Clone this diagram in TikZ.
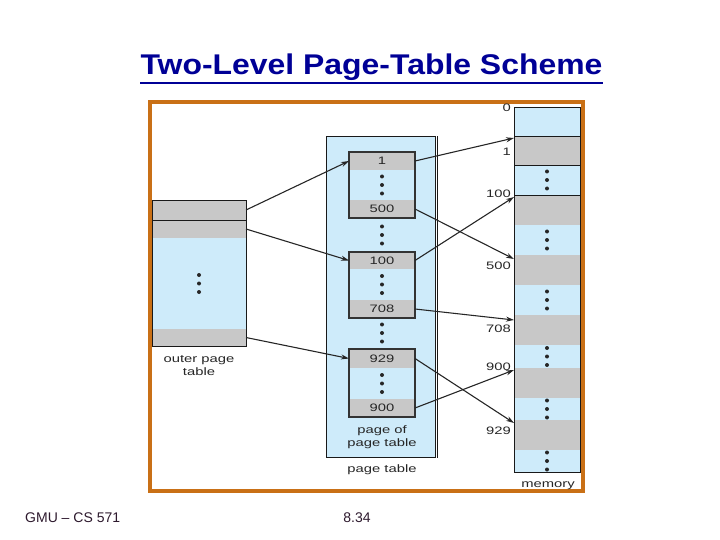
\documentclass[tikz,border=0pt]{standalone}
\usepackage{fontspec}
\setmainfont{Liberation Sans}
\newfontfamily\figfont[FakeStretch=1.37]{Liberation Sans}
\newfontfamily\titlefont[FakeStretch=1.12]{Liberation Sans}
\usetikzlibrary{arrows.meta, positioning}

\definecolor{pblue}{RGB}{206,235,250}
\definecolor{pgray}{RGB}{200,200,200}
\definecolor{frameorange}{RGB}{201,112,22}
\definecolor{titleblue}{RGB}{0,0,150}
\definecolor{footcol}{RGB}{45,25,45}

\begin{document}
\begin{tikzpicture}[
  x=1pt, y=-1pt,
  every node/.style={font=\figfont\fontsize{10.8}{13}\selectfont, text=black!85},
  cell/.style={rectangle, inner sep=0pt, outer sep=0pt, minimum width=66pt},
  grayrow/.style={cell, fill=pgray},
  bluerow/.style={cell, fill=pblue},
  box/.style={draw=black!80, line width=1.5pt},
  frame/.style={draw=black!90, line width=0.9pt},
  addr/.style={anchor=east, inner sep=0pt},
  lbl/.style={align=center, inner sep=0pt},
  arrow/.style={-{Stealth[length=8pt,width=5pt]}, line width=1.1pt, draw=black!85},
  dot/.style={fill=black!85},
]
\useasboundingbox (0,0) rectangle (720,540);

%% ── Column positions ──────────────────────────────────
\def\ox{199}  % outer page table x
\def\px{382}  % page table x
\def\mx{547}  % memory x

%% ── Title and footer ──────────────────────────────────
\node[font=\titlefont\bfseries\fontsize{28.5}{30}\selectfont, text=titleblue,
      anchor=base, inner sep=0pt] (title) at (371.5,75) {Two-Level Page-Table Scheme};
\draw[titleblue, line width=2.2pt] ([yshift=-8pt]title.base west) -- ([yshift=-8pt]title.base east);
\node[font=\fontsize{14}{16}\selectfont, text=footcol, anchor=base west, inner sep=0pt]
  (course) at (25,522) {GMU – CS 571};
\node[font=\fontsize{14}{16}\selectfont, text=footcol, anchor=base, inner sep=0pt]
  (slideno) at (357,522) {8.34};

%% ── Orange frame ──────────────────────────────────────
\node[draw=frameorange, line width=4pt, minimum width=433pt, minimum height=389pt,
      inner sep=0pt] (panel) at (366.5,296.5) {};

%% ── Outer page table ──────────────────────────────────
\foreach \nm/\ya/\yb/\st in {o1/200/220/grayrow, o2/220/238/grayrow,
                             oA/238/329/bluerow, oN/329/346/grayrow}{
  \pgfmathsetmacro\yc{(\ya+\yb)/2}
  \pgfmathsetmacro\hh{\yb-\ya}
  \node[\st, minimum width=94pt, minimum height=\hh pt] (\nm) at (\ox,\yc) {};
}
\draw[frame] (o1.north west) rectangle (oN.south east);
\draw[frame] (o1.south west) -- (o1.south east);
\node[lbl] (outerlbl) at (\ox,366) {outer page\\table};

%% ── Page table with its pages ─────────────────────────
\node[frame, fill=pblue, minimum width=109pt, minimum height=321pt, inner sep=0pt]
  (ptab) at (380.5,297) {};
\draw[frame] ([xshift=2pt]ptab.north east) -- ([xshift=2pt]ptab.south east);
\foreach \nm/\ya/\yb/\st/\txt in {p1/152/170/grayrow/1, pA/170/200/bluerow/, p500/200/218/grayrow/500,
                                  p100/252/269/grayrow/100, pB/269/300/bluerow/, p708/300/318/grayrow/708,
                                  p929/349/368/grayrow/929, pC/368/399/bluerow/, p900/399/417/grayrow/900}{
  \pgfmathsetmacro\yc{(\ya+\yb)/2}
  \pgfmathsetmacro\hh{\yb-\ya}
  \node[\st, minimum height=\hh pt] (\nm) at (\px,\yc) {\txt};
}
\draw[box] (p1.north west) rectangle (p500.south east);
\draw[box] (p100.north west) rectangle (p708.south east);
\draw[box] (p929.north west) rectangle (p900.south east);
\node[lbl] (pagelbl) at (\px,437) {page of\\page table};
\node[lbl] (ptablbl) at (\px,470) {page table};

%% ── Memory ────────────────────────────────────────────
\foreach \nm/\ya/\yb/\st in {m0/107/136/bluerow, m1/136/165/grayrow, mA/165/195/bluerow,
                             m100/195/225/grayrow, mB/225/255/bluerow, m500/255/285/grayrow,
                             mC/285/315/bluerow, m708/315/345/grayrow, mD/345/368/bluerow,
                             m900/368/398/grayrow, mE/398/420/bluerow, m929/420/450/grayrow,
                             mF/450/472/bluerow}{
  \pgfmathsetmacro\yc{(\ya+\yb)/2}
  \pgfmathsetmacro\hh{\yb-\ya}
  \node[\st, minimum height=\hh pt] (\nm) at (\mx,\yc) {};
}
\draw[frame] (m0.north west) rectangle (mF.south east);
\foreach \nm in {m0, m1, mA}
  \draw[frame] (\nm.south west) -- (\nm.south east);
\node[lbl] (memlbl) at (548,486) {memory};

% frame numbers beside memory
\node[addr] (a0)   at (511,108) {0};
\node[addr] (a1)   at (511,152) {1};
\node[addr] (a100) at (511,194) {100};
\node[addr] (a500) at (511,266) {500};
\node[addr] (a708) at (511,329) {708};
\node[addr] (a900) at (511,367) {900};
\node[addr] (a929) at (511,431) {929};

%% ── Ellipsis dots ─────────────────────────────────────
\foreach \nm in {oA, pA, pB, pC, mA, mB, mC, mD, mE, mF}
  \foreach \d in {-8.5, 0, 8.5}
    \fill[dot] ([yshift=\d pt]\nm.center) circle (2);
\foreach \yc in {235, 333}
  \foreach \d in {-8.5, 0, 8.5}
    \fill[dot] (\px,\yc+\d) circle (2);

%% ── Arrows ────────────────────────────────────────────
\draw[arrow] (o1.east) -- (p1.west);
\draw[arrow] (o2.east) -- (p100.west);
\draw[arrow] (oN.east) -- (p929.west);
\draw[arrow] (p1.east)   -- ([yshift=-2pt]m1.north west);
\draw[arrow] (p500.east) -- ([yshift=-4pt]m500.north west);
\draw[arrow] (p100.east) -- ([yshift=-2pt]m100.north west);
\draw[arrow] (p708.east) -- ([yshift=-5pt]m708.north west);
\draw[arrow] (p929.east) -- ([yshift=-3pt]m929.north west);
\draw[arrow] (p900.east) -- ([yshift=-2pt]m900.north west);

\end{tikzpicture}
\end{document}
